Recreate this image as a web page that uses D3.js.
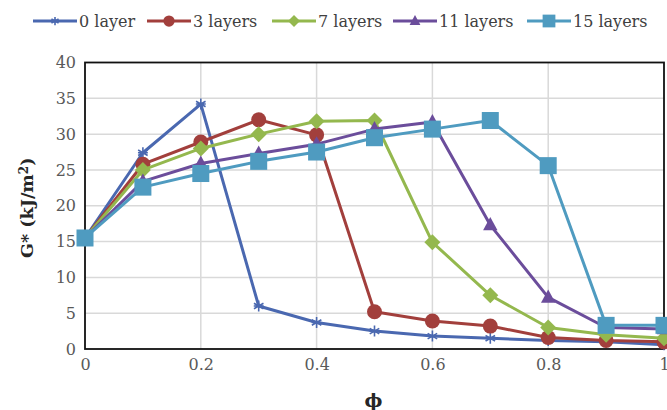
<!DOCTYPE html>
<html>
<head>
<meta charset="utf-8">
<script src="https://cdn.jsdelivr.net/npm/d3@7"></script>
<style>
  html, body { margin: 0; padding: 0; background: #fff; }
  svg { display: block; }
</style>
</head>
<body>
<svg id="chart" width="667" height="410"></svg>
<script>
// φ values along the x axis
const phi = [0, 0.1, 0.2, 0.3, 0.4, 0.5, 0.6, 0.7, 0.8, 0.9, 1.0];

// G* (kJ/m²) per number of layers
const layers0  = [15.5, 27.4, 34.2, 6.0, 3.7, 2.5, 1.8, 1.5, 1.2, 1.0, 0.6];
const layers3  = [15.5, 25.8, 28.9, 32.0, 29.9, 5.2, 3.9, 3.2, 1.6, 1.2, 1.0];
const layers7  = [15.5, 25.0, 28.0, 30.0, 31.8, 31.9, 14.9, 7.5, 3.0, 2.0, 1.5];
const layers11 = [15.5, 23.4, 25.9, 27.3, 28.6, 30.7, 31.7, 17.3, 7.2, 3.0, 2.8];
const layers15 = [15.5, 22.6, 24.5, 26.2, 27.5, 29.5, 30.7, 31.9, 25.6, 3.3, 3.3];

const seriesNames = ["0 layer", "3 layers", "7 layers", "11 layers", "15 layers"];
const seriesValues = [layers0, layers3, layers7, layers11, layers15];

const xTicks = [0, 0.2, 0.4, 0.6, 0.8, 1];
const xTickLabels = ["0", "0.2", "0.4", "0.6", "0.8", "1"];
const yTicks = [0, 5, 10, 15, 20, 25, 30, 35, 40];

const colors = ["#4a68b0", "#a23f3c", "#94b84e", "#6b4d9b", "#4f9bc0"];
const markers = ["asterisk", "circle", "diamond", "triangle", "square"];

const svg = d3.select("#chart");
const font = "'DejaVu Serif', serif";

const x = d3.scaleLinear().domain([0, 1]).range([85, 664]);
const y = d3.scaleLinear().domain([0, 40]).range([349, 62.5]);

// gridlines
svg.append("g").selectAll("line.h").data(yTicks.filter(d => d > 0 && d < 40)).join("line")
  .attr("x1", x(0)).attr("x2", x(1))
  .attr("y1", d => y(d)).attr("y2", d => y(d))
  .attr("stroke", "#d9d9d9").attr("stroke-width", 1.5);
svg.append("g").selectAll("line.v").data(xTicks.filter(d => d > 0 && d < 1)).join("line")
  .attr("y1", y(0)).attr("y2", y(40))
  .attr("x1", d => x(d)).attr("x2", d => x(d))
  .attr("stroke", "#d9d9d9").attr("stroke-width", 1.5);

// plot frame
svg.append("rect")
  .attr("x", x(0)).attr("y", y(40))
  .attr("width", x(1) - x(0)).attr("height", y(0) - y(40))
  .attr("fill", "none").attr("stroke", "#111").attr("stroke-width", 1.8);

// axes
const yAxis = d3.axisLeft(y).tickValues(yTicks).tickSize(0).tickPadding(9);
const gy = svg.append("g").attr("transform", `translate(${x(0)},0)`).call(yAxis);
gy.select(".domain").remove();
gy.selectAll("text").attr("font-family", font).attr("font-size", 16).attr("fill", "#595959");

const xAxis = d3.axisBottom(x).tickValues(xTicks).tickFormat((d, i) => xTickLabels[i]).tickSize(0).tickPadding(10);
const gx = svg.append("g").attr("transform", `translate(0,${y(0)})`).call(xAxis);
gx.select(".domain").remove();
gx.selectAll("text").attr("font-family", font).attr("font-size", 16).attr("fill", "#595959");

// marker drawing
function drawMarker(g, type, color, s) {
  if (type === "asterisk") {
    const r = 5.5 * s;
    const p = d3.path();
    for (let a = 0; a < 3; a++) {
      const ang = Math.PI / 2 + a * Math.PI / 3;
      p.moveTo(-r * Math.cos(ang), -r * Math.sin(ang));
      p.lineTo(r * Math.cos(ang), r * Math.sin(ang));
    }
    p.moveTo(-r * 0.9, 0); p.lineTo(r * 0.9, 0);
    g.append("path").attr("d", p.toString()).attr("stroke", color).attr("stroke-width", 1.6).attr("fill", "none");
  } else if (type === "circle") {
    g.append("circle").attr("r", 7.5 * s).attr("fill", color);
  } else if (type === "diamond") {
    const r = 8 * s;
    g.append("path").attr("d", `M0,${-r}L${r},0L0,${r}L${-r},0Z`).attr("fill", color);
  } else if (type === "triangle") {
    const r = 8 * s;
    g.append("path").attr("d", `M0,${-r}L${r * 0.9},${r * 0.65}L${-r * 0.9},${r * 0.65}Z`).attr("fill", color);
  } else if (type === "square") {
    const r = 8.5 * s;
    g.append("rect").attr("x", -r).attr("y", -r).attr("width", 2 * r).attr("height", 2 * r).attr("fill", color);
  }
}

// series lines and markers
const line = d3.line().x((d, i) => x(phi[i])).y(d => y(d));
seriesValues.forEach((vals, k) => {
  const g = svg.append("g");
  g.append("path").datum(vals).attr("d", line)
    .attr("fill", "none").attr("stroke", colors[k]).attr("stroke-width", 3)
    .attr("stroke-linejoin", "round");
  vals.forEach((v, i) => {
    const m = g.append("g").attr("transform", `translate(${x(phi[i])},${y(v)})`);
    drawMarker(m, markers[k], colors[k], 1);
  });
});

// legend
const legendX = [33, 147, 272, 393, 527];
const lg = svg.append("g");
seriesNames.forEach((name, k) => {
  const g = lg.append("g").attr("transform", `translate(${legendX[k]},21)`);
  g.append("line").attr("x1", 0).attr("x2", 44).attr("y1", 0).attr("y2", 0)
    .attr("stroke", colors[k]).attr("stroke-width", 3);
  const m = g.append("g").attr("transform", "translate(22,0)");
  drawMarker(m, markers[k], colors[k], 0.75);
  g.append("text").attr("x", 46).attr("y", 0).attr("dy", "0.35em")
    .attr("font-family", font).attr("font-size", 16).attr("fill", "#404040")
    .text(name);
});

// axis titles
svg.append("text")
  .attr("transform", `translate(33,${(y(0) + y(40)) / 2 + 2}) rotate(-90)`)
  .attr("text-anchor", "middle")
  .attr("font-family", font).attr("font-size", 17.5).attr("font-weight", "bold").attr("fill", "#262626")
  .call(t => {
    t.append("tspan").text("G* (kJ/m");
    t.append("tspan").attr("font-size", 12).attr("dy", "-0.45em").text("2");
    t.append("tspan").attr("dy", "0.3em").text(")");
  });

svg.append("text")
  .attr("x", (x(0) + x(1)) / 2 - 1).attr("y", 407)
  .attr("text-anchor", "middle")
  .attr("font-family", font).attr("font-size", 19).attr("font-weight", "bold").attr("fill", "#262626")
  .text("ϕ");
</script>
</body>
</html>
